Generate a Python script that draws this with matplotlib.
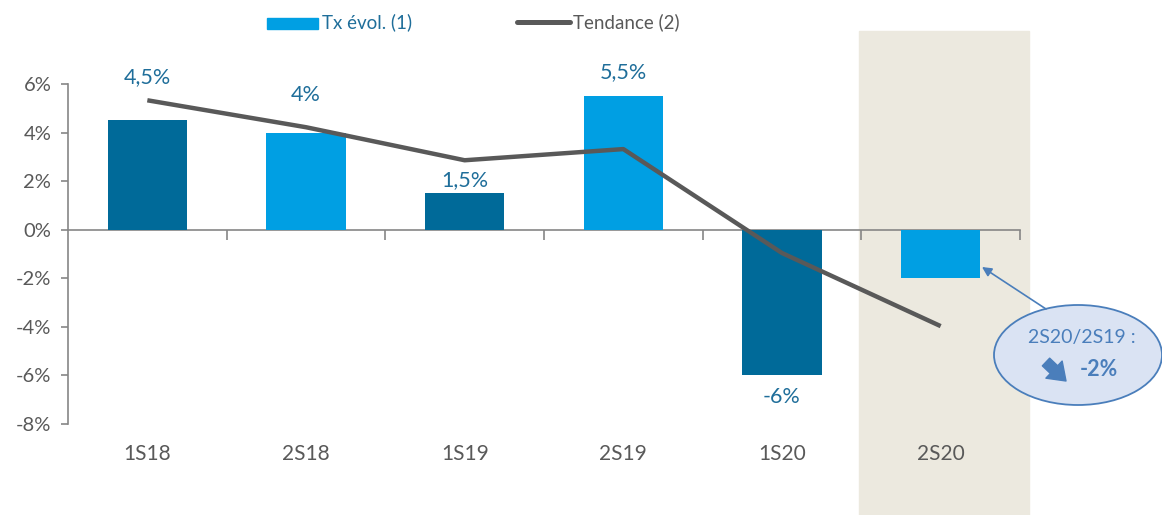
import matplotlib
matplotlib.use("Agg")
import matplotlib.pyplot as plt
from matplotlib.patches import Rectangle, Ellipse
from matplotlib.lines import Line2D

categories = ["1S18", "2S18", "1S19", "2S19", "1S20", "2S20"]
tx_evol = [4.5, 4.0, 1.5, 5.5, -6.0, -2.0]
tendance = [5.33, 4.22, 2.86, 3.32, -0.96, -3.97]
bar_labels = ["4,5%", "4%", "1,5%", "5,5%", "-6%", ""]
label_pos = [6.28, 5.54, 2.04, 6.49, -6.9, None]
yticks = [-8, -6, -4, -2, 0, 2, 4, 6]

DARK = "#006A99"
LIGHT = "#009FE3"
LINE = "#595959"
GREY = "#595959"
LBL = "#1F6E9A"
AX = "#868686"

plt.rcParams['font.family'] = ['Lato', 'DejaVu Sans']

W, H = 1162, 515
fig = plt.figure(figsize=(W / 100, H / 100), dpi=100)

# shaded highlight band (figure coordinates)
fig.patches.append(Rectangle((859 / W, 0), (1029 - 859) / W, (515 - 31) / H,
                             transform=fig.transFigure, color="#ECE9DF",
                             zorder=0))

ax = fig.add_axes([68 / W, 1 - 424 / H, (1020 - 68) / W, (424 - 84) / H])
ax.set_zorder(2)
ax.patch.set_alpha(0)
x = list(range(len(categories)))
colors = [DARK if i % 2 == 0 else LIGHT for i in x]
ax.bar(x, tx_evol, width=0.5, color=colors, zorder=2)
ax.plot(x, tendance, color=LINE, lw=3.2, zorder=3, clip_on=False,
        solid_capstyle="butt")

for i, (lab, yp) in enumerate(zip(bar_labels, label_pos)):
    if lab:
        ax.text(i, yp, lab, ha="center", va="center", color=LBL, fontsize=15.5)

ax.set_xlim(-0.5, 5.5)
ax.set_ylim(-8, 6)
ax.set_yticks(yticks)
ax.set_yticklabels([f"{v}%" for v in yticks], color=GREY, fontsize=14.5)
ax.tick_params(axis="y", length=5, color=AX, width=1.2, pad=7)

for s in ["top", "right"]:
    ax.spines[s].set_visible(False)
ax.spines["left"].set_color(AX)
ax.spines["left"].set_linewidth(1.2)
ax.spines["bottom"].set_position(("data", 0))
ax.spines["bottom"].set_color(AX)
ax.spines["bottom"].set_linewidth(1.2)
ax.spines["bottom"].set_zorder(1)
ax.set_xticks([0.5, 1.5, 2.5, 3.5, 4.5, 5.5])
ax.set_xticklabels([])
ax.tick_params(axis="x", length=7, color=AX, width=1.2, direction="out")

for i, c in enumerate(categories):
    ax.text(i, -9.25, c, ha="center", va="center", color=GREY, fontsize=15,
            clip_on=False)

# legend (manual)
fig.patches.append(Rectangle((267 / W, 1 - 29 / H), 51 / W, 11 / H,
                             transform=fig.transFigure, color=LIGHT))
fig.text(322 / W, 1 - 22 / H, "Tx évol. (1)", color=LBL, fontsize=13.5,
         va="center", ha="left")
fig.lines.append(Line2D([517 / W, 570 / W], [1 - 22 / H, 1 - 22 / H],
                        transform=fig.transFigure, color=LINE, lw=3.6,
                        solid_capstyle="round"))
fig.text(573 / W, 1 - 22 / H, "Tendance (2)", color=GREY, fontsize=13.5,
         va="center", ha="left")

# callout
ANN = "#4A7EBB"
fig.patches.append(Ellipse((1078 / W, 1 - 355 / H), 168 / W, 100 / H,
                           transform=fig.transFigure, facecolor="#DAE3F3",
                           edgecolor=ANN, lw=1.3, zorder=5))
fig.text(1082 / W, 1 - 337 / H, "2S20/2S19 :", color=ANN, fontsize=14,
         ha="center", va="center", zorder=6)
fig.text(1099 / W, 1 - 370 / H, "-2%", color=ANN, fontsize=15.5, fontweight="bold",
         ha="center", va="center", zorder=6)
fig.add_artist(matplotlib.patches.FancyArrowPatch(
    (1046 / W, 1 - 362 / H), (1066 / W, 1 - 381 / H),
    transform=fig.transFigure, arrowstyle="simple,head_length=0.7,head_width=1.0,tail_width=0.45",
    mutation_scale=17, color=ANN, zorder=6, shrinkA=0, shrinkB=0))
fig.add_artist(matplotlib.patches.FancyArrowPatch(
    (1046 / W, 1 - 309 / H), (982 / W, 1 - 267 / H),
    transform=fig.transFigure, arrowstyle="-|>", mutation_scale=14,
    color=ANN, lw=1.2, zorder=6, shrinkA=0, shrinkB=0))

fig.savefig("out.png", dpi=100)
